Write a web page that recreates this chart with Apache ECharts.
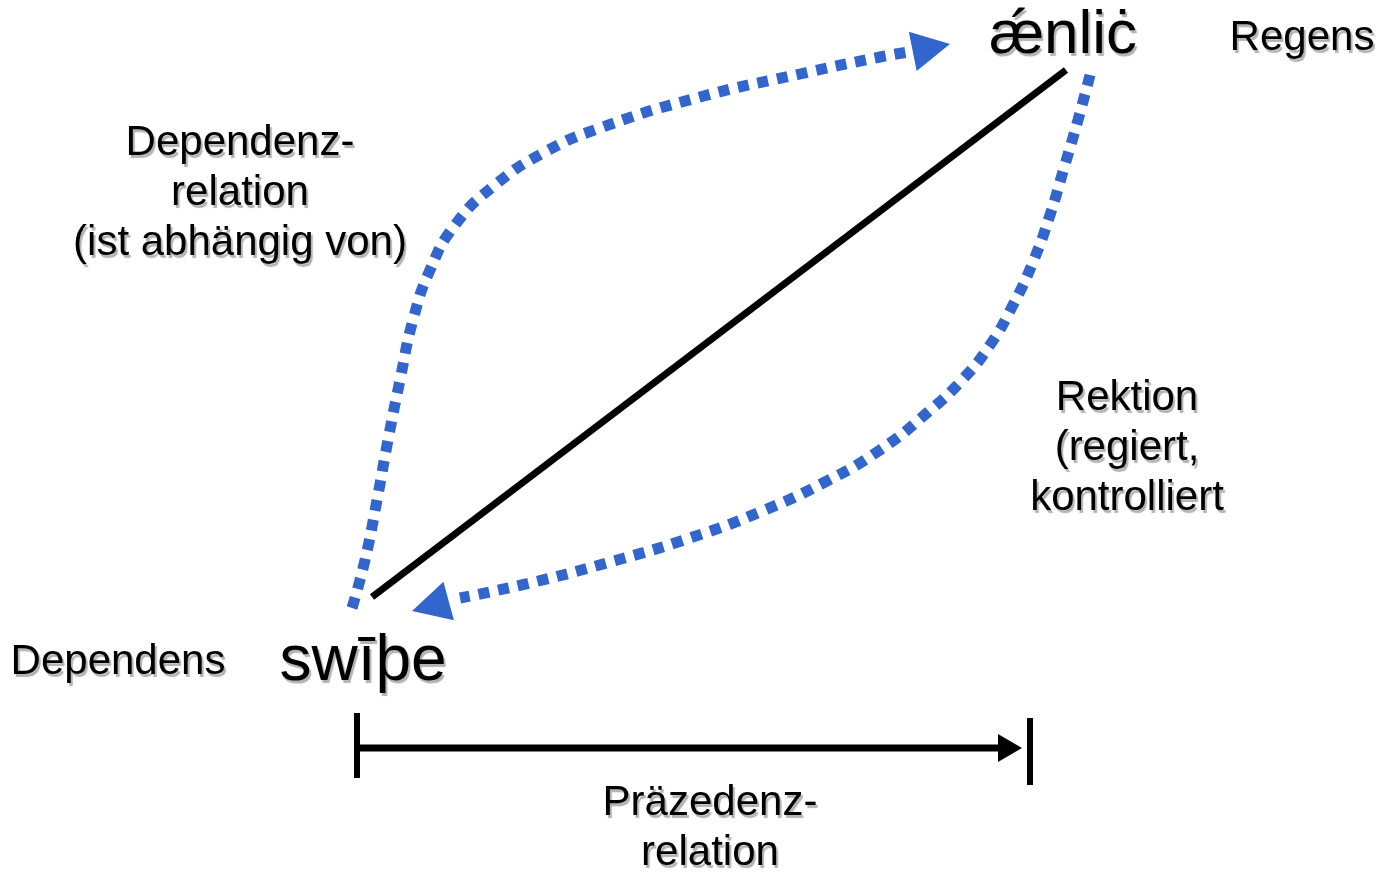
<!DOCTYPE html>
<html>
<head>
<meta charset="utf-8">
<script src="https://cdn.jsdelivr.net/npm/echarts@6/dist/echarts.min.js"></script>
<style>
  html, body { margin: 0; padding: 0; background: #fff; }
  #chart { width: 1380px; height: 874px; }
</style>
</head>
<body>
<div id="chart"></div>
<script>
// diagram coordinates (x right, y down)
const depX = [352, 365, 377, 388, 400, 413, 430, 455, 495, 545, 600, 700, 800, 880, 915];
const depY = [608, 560, 500, 440, 380, 320, 270, 225, 185, 152, 128, 97, 74, 57, 51];
const depTip = [950, 44];

const rekX = [1090, 1078, 1064, 1050, 1033, 1013, 990, 962, 928, 880, 825, 760, 690, 610, 530, 460];
const rekY = [75, 120, 168, 215, 262, 305, 345, 380, 412, 450, 482, 512, 538, 562, 583, 598];
const rekTip = [412, 611];

const diagX = [372, 1066];
const diagY = [597, 70];

const precX = [357, 1000];
const precY = [748, 748];
const precTip = [1022, 748];
const barsX = [[357, 357], [1030, 1030]];
const barsY = [[713, 778], [718, 785]];

const labelTexts = ['ǽnliċ', 'swīþe', 'Regens', 'Dependens',
  'Dependenz-\nrelation\n(ist abhängig von)', 'Rektion\n(regiert,\nkontrolliert', 'Präzedenz-\nrelation'];
const labelX = [1063, 363, 1302, 118, 240, 1127, 710];
const labelY = [36, 662, 38, 662, 193, 448, 828];
const labelSize = [62, 64, 42, 42, 42, 42, 42];

const blue = '#3366CC';
const zip = (xs, ys) => xs.map((x, i) => [x, ys[i]]);

// arrow head: triangle centred half a length behind the tip, rotated along the last segment
function arrowHead(from, tip, len, wid, color) {
  const dx = tip[0] - from[0], dy = tip[1] - from[1];
  const d = Math.hypot(dx, dy);
  const c = [tip[0] - dx / d * len / 2, tip[1] - dy / d * len / 2];
  const ang = Math.atan2(-dy, dx) * 180 / Math.PI - 90;
  return {
    type: 'scatter', data: [c], symbol: 'triangle', symbolSize: [wid, len],
    symbolRotate: ang, itemStyle: { color: color, opacity: 1 }, silent: true, z: 5
  };
}

const chart = echarts.init(document.getElementById('chart'));
const dashed = { color: blue, width: 11, type: [11, 9], cap: 'butt' };

const depPts = zip(depX, depY);
const rekPts = zip(rekX, rekY);

chart.setOption({
  animation: false,
  grid: { left: 0, right: 0, top: 0, bottom: 0 },
  xAxis: { type: 'value', min: 0, max: 1380, show: false },
  yAxis: { type: 'value', min: 0, max: 874, inverse: true, show: false },
  series: [
    { type: 'line', data: depPts, smooth: 0.5, showSymbol: false, lineStyle: dashed },
    { type: 'line', data: rekPts, smooth: 0.5, showSymbol: false, lineStyle: dashed },
    arrowHead(depPts[depPts.length - 1], depTip, 38, 40, blue),
    arrowHead(rekPts[rekPts.length - 1], rekTip, 38, 40, blue),
    { type: 'line', data: zip(diagX, diagY), showSymbol: false, lineStyle: { color: '#000', width: 7 } },
    { type: 'line', data: zip(precX, precY), showSymbol: false, lineStyle: { color: '#000', width: 7 } },
    arrowHead([precX[0], precY[0]], precTip, 24, 28, '#000'),
    ...barsX.map((bx, i) => ({
      type: 'line', data: zip(bx, barsY[i]), showSymbol: false,
      lineStyle: { color: '#000', width: 6, cap: 'butt' }
    })),
    {
      type: 'scatter', symbolSize: 0, silent: true, z: 10,
      itemStyle: { opacity: 1 },
      data: labelTexts.map((t, i) => ({
        value: [labelX[i], labelY[i]],
        label: {
          show: true, position: 'inside', formatter: t,
          fontFamily: 'Liberation Sans', fontSize: labelSize[i],
          lineHeight: 50, align: 'center', verticalAlign: 'middle',
          color: '#000', textShadowColor: 'rgba(0,0,0,0.3)',
          textShadowOffsetX: 2, textShadowOffsetY: 3, textShadowBlur: 1
        }
      }))
    }
  ]
});
</script>
</body>
</html>
